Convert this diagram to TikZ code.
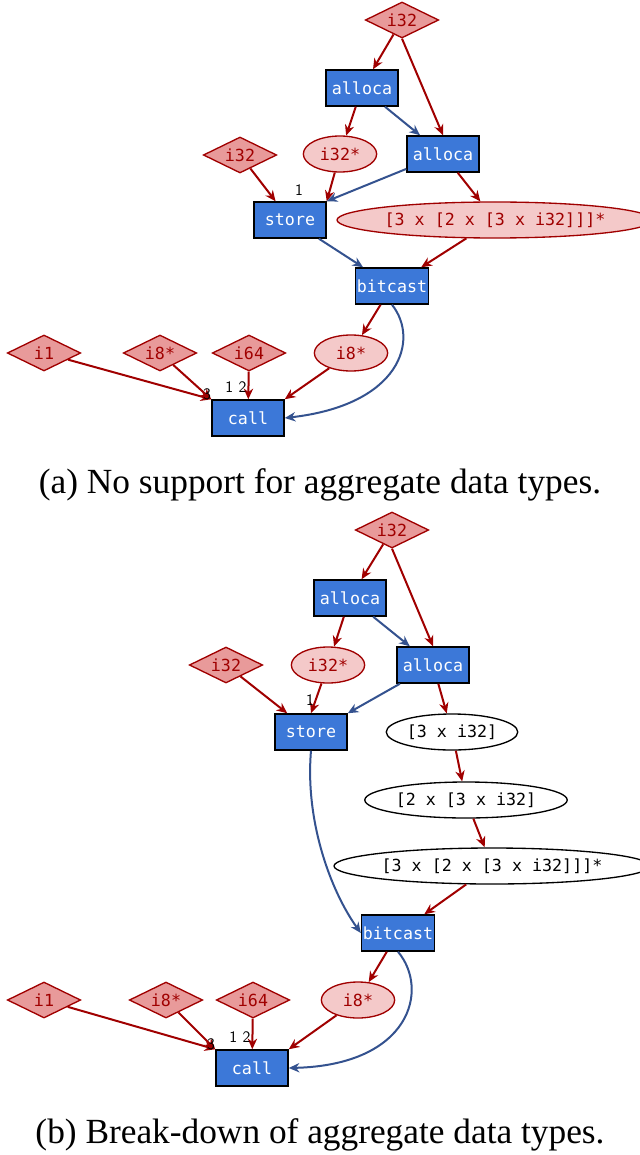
\documentclass[tikz,border=0pt]{standalone}
\usepackage{fontspec}
\setmainfont{Liberation Serif}
\setmonofont{DejaVu Sans Mono}
\usetikzlibrary{shapes.geometric,arrows.meta}
\definecolor{boxb}{HTML}{3C78D8}
\definecolor{dia}{HTML}{E89A9A}
\definecolor{ell}{HTML}{F4C9C9}
\definecolor{dred}{HTML}{A00000}
\definecolor{bl}{HTML}{34528F}
\begin{document}
\begin{tikzpicture}[x=0.75pt,y=-0.75pt,
 lab/.style={font=\ttfamily\fontsize{12.5}{14}\selectfont},
 op/.style={lab,draw=black,line width=1.1pt,fill=boxb,text=white,minimum width=54pt,minimum height=27pt,inner sep=1pt},
 ty/.style={lab,diamond,aspect=2.1,draw=dred,line width=1pt,fill=dia,text=dred,inner sep=0.5pt,minimum height=27pt,minimum width=55pt},
 pt/.style={lab,ellipse,draw=dred,line width=1pt,fill=ell,text=dred,minimum height=27pt,inner sep=1pt},
 wt/.style={lab,ellipse,draw=black,line width=1pt,fill=white,text=black,minimum height=27pt,inner sep=1pt},
 r/.style={draw=dred,line width=1.5pt,-{Stealth[length=8pt,width=7pt]}},
 b/.style={draw=bl,line width=1.5pt,-{Stealth[length=8pt,width=7pt]}},
 num/.style={font=\sffamily\fontsize{12}{14}\selectfont,inner sep=0pt},
 captxt/.style={font=\fontsize{26.5}{30}\selectfont}]
\useasboundingbox (0,0) rectangle (639,1155);
% (a)
\node[ty] (at) at (402,20) {i32};
\node[op] (aa1) at (362,88) {alloca};
\node[op] (aa2) at (443,154) {alloca};
\node[pt,minimum width=55pt] (ap) at (340,154) {i32*};
\node[ty] (al) at (240,155) {i32};
\node[op] (as) at (290,220) {store};
\node[pt,minimum width=208pt] (abig) at (495,220) {[3 x [2 x [3 x i32]]]*};
\node[op] (ab) at (392,286) {bitcast};
\node[ty] (ai1) at (44,353) {i1};
\node[ty] (ai8) at (160,353) {i8*};
\node[ty] (ai64) at (249,353) {i64};
\node[pt,minimum width=55pt] (ap8) at (351,353) {i8*};
\node[op] (ac) at (248,418) {call};
\node[captxt] (capa) at (320,485) {(a) No support for aggregate data types.};
\draw[r] (at) -- (aa1);
\draw[r] (at.south) -- (aa2.north);
\draw[r] (aa1) -- (ap);
\draw[b] (aa1) -- (aa2);
\draw[r] (al) -- (as);
\draw[r] (ap) -- (as.north east);
\draw[b] (aa2) -- (as.north east);
\draw[r] (aa2) -- (abig);
\draw[b] (as) -- (ab);
\draw[r] (abig) -- (ab);
\draw[r] (ab) -- (ap8);
\draw[r] (ai1) -- (ac.north west);
\draw[r] (ai8) -- (ac.north west);
\draw[r] (ai64) -- (ac);
\draw[r] (ap8) -- (ac.north east);
\draw[b] (ab.south) .. controls (420,340) and (400,405) .. (ac.east);
\node[num] (n1a) at (299,190) {1};
\node[num] (n3a) at (207,394) {3};
\node[num] (n12a) at (236,387) {1\,\,2};
% (b)
\node[ty] (bt) at (392,530) {i32};
\node[op] (ba1) at (350,598) {alloca};
\node[op] (ba2) at (433,665) {alloca};
\node[pt,minimum width=55pt] (bp) at (328,665) {i32*};
\node[ty] (bl) at (226,665) {i32};
\node[op] (bs) at (311,732) {store};
\node[wt,minimum width=86pt] (b3) at (452,732) {[3 x i32]};
\node[wt,minimum width=135pt] (b2) at (466,800) {[2 x [3 x i32]};
\node[wt,minimum width=210pt] (bbig) at (492,866) {[3 x [2 x [3 x i32]]]*};
\node[op] (bb) at (398,933) {bitcast};
\node[ty] (bi1) at (44,1000) {i1};
\node[ty] (bi8) at (166,1000) {i8*};
\node[ty] (bi64) at (253,1000) {i64};
\node[pt,minimum width=55pt] (bp8) at (358,1000) {i8*};
\node[op] (bc) at (252,1068) {call};
\node[captxt] (capb) at (320,1135) {(b) Break-down of aggregate data types.};
\draw[r] (bt) -- (ba1);
\draw[r] (bt.south) -- (ba2.north);
\draw[r] (ba1) -- (bp);
\draw[b] (ba1) -- (ba2);
\draw[r] (bl) -- (bs);
\draw[r] (bp) -- (bs.north);
\draw[b] (ba2) -- (bs.north east);
\draw[r] (ba2) -- (b3);
\draw[r] (b3) -- (b2);
\draw[r] (b2) -- (bbig);
\draw[r] (bbig) -- (bb);
\draw[b] (bs.south) .. controls (305,820) and (330,890) .. (bb.west);
\draw[r] (bb) -- (bp8);
\draw[r] (bi1) -- (bc.north west);
\draw[r] (bi8) -- (bc.north west);
\draw[r] (bi64) -- (bc);
\draw[r] (bp8) -- (bc.north east);
\draw[b] (bb.south) .. controls (430,990) and (410,1065) .. (bc.east);
\node[num] (n1b) at (310,700) {1};
\node[num] (n3b) at (211,1044) {3};
\node[num] (n12b) at (240,1037) {1\,\,2};
\end{tikzpicture}
\end{document}
